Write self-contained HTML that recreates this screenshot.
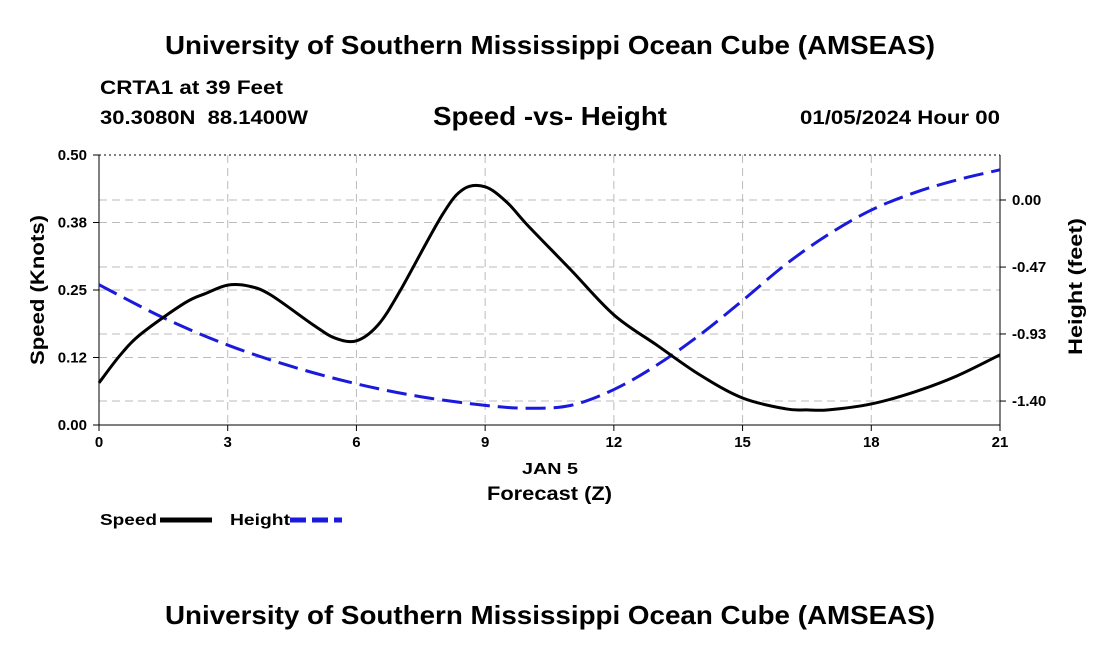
<!DOCTYPE html>
<html><head><meta charset="utf-8"><style>
body{margin:0;background:#fff;font-family:"Liberation Sans",sans-serif}
svg text{font-family:"Liberation Sans",sans-serif;font-weight:bold}
</style></head><body>
<svg id="c" width="1100" height="650">
<text x="165" y="54" font-size="26" textLength="770" lengthAdjust="spacingAndGlyphs">University of Southern Mississippi Ocean Cube (AMSEAS)</text>
<text x="100" y="94" font-size="19" textLength="183" lengthAdjust="spacingAndGlyphs">CRTA1 at 39 Feet</text>
<text x="100" y="124" font-size="19" textLength="208" lengthAdjust="spacingAndGlyphs" xml:space="preserve">30.3080N  88.1400W</text>
<text x="433" y="125" font-size="26" textLength="234" lengthAdjust="spacingAndGlyphs">Speed -vs- Height</text>
<text x="800" y="124" font-size="19" textLength="200" lengthAdjust="spacingAndGlyphs">01/05/2024 Hour 00</text>
<text x="522" y="474" font-size="16" textLength="56" lengthAdjust="spacingAndGlyphs">JAN 5</text>
<text x="487" y="500" font-size="19" textLength="125" lengthAdjust="spacingAndGlyphs">Forecast (Z)</text>
<text transform="translate(44,365) rotate(-90)" font-size="19" textLength="150" lengthAdjust="spacingAndGlyphs">Speed (Knots)</text>
<text transform="translate(1082,355) rotate(-90)" font-size="19" textLength="137" lengthAdjust="spacingAndGlyphs">Height (feet)</text>
<g>
<text x="100" y="525" font-size="16" textLength="57" lengthAdjust="spacingAndGlyphs">Speed</text>
<line x1="160" y1="520" x2="212" y2="520" stroke="#000" stroke-width="5"/>
<text x="230" y="525" font-size="16" textLength="60" lengthAdjust="spacingAndGlyphs">Height</text>
<line x1="290" y1="520" x2="342" y2="520" stroke="#1a1adc" stroke-width="5" stroke-dasharray="16,6"/>
</g>
<text x="165" y="624" font-size="26" textLength="770" lengthAdjust="spacingAndGlyphs">University of Southern Mississippi Ocean Cube (AMSEAS)</text>
<g id="plot"></g>
</svg>
<script>
const xTicks=[0,3,6,9,12,15,18,21];
const yTicks=[0,0.125,0.25,0.375,0.5];
const yTickLabels=["0.00","0.12","0.25","0.38","0.50"];
const y2Ticks=[0,-0.467,-0.933,-1.4];
const y2TickLabels=["0.00","-0.47","-0.93","-1.40"];
const speedHours=[0,0.5,1,2,2.5,3,3.5,4,5,5.5,6,6.5,7,8,8.5,9,9.5,10,11,12,13,14,15,16,16.5,17,18,19,20,21];
const speedValues=[0.078,0.13,0.17,0.226,0.244,0.259,0.257,0.241,0.185,0.161,0.156,0.185,0.246,0.389,0.437,0.441,0.413,0.369,0.287,0.204,0.148,0.093,0.05,0.03,0.028,0.028,0.039,0.061,0.091,0.13];
const heightHours=[0,1.5,3,4.5,6,7.5,9,10,11,12,13,14,15,16,17,18,19,20,21];
const heightValues=[-0.59,-0.82,-1.01,-1.16,-1.28,-1.37,-1.43,-1.45,-1.43,-1.32,-1.15,-0.94,-0.70,-0.45,-0.24,-0.07,0.05,0.14,0.21];
const L=99,R=1000,T=155,B=425;
const X=h=>L+(h/21)*(R-L);
const Y=v=>B-(v/0.5)*(B-T);
const Y2=v=>200-v*143.6;
const NS="http://www.w3.org/2000/svg";
const g=document.getElementById('plot');
function mk(t,a,name){const e=document.createElementNS(NS,t);for(const k in a)e.setAttribute(k,a[k]);


g.appendChild(e);return e;}
xTicks.forEach((t,i)=>{
 if(t>0&&t<21)mk('line',{x1:X(t),y1:T,x2:X(t),y2:B,stroke:'#bbb','stroke-dasharray':'8,5'},'x-gridline');
 mk('line',{x1:X(t),y1:B,x2:X(t),y2:B+6,stroke:'#000'},'x-tick');
 const tx=mk('text',{x:X(t),y:B+22,'font-size':15,'text-anchor':'middle'},'x-tick-label');tx.textContent=t;
});
yTicks.forEach((t,i)=>{
 if(t>0&&t<0.5)mk('line',{x1:L,y1:Y(t),x2:R,y2:Y(t),stroke:'#bbb','stroke-dasharray':'8,5'},'y-gridline');
 mk('line',{x1:L-6,y1:Y(t),x2:L,y2:Y(t),stroke:'#000'},'y-tick');
 const tx=mk('text',{x:L-12,y:Y(t)+5,'font-size':15,'text-anchor':'end'},'y-tick-label');tx.textContent=yTickLabels[i];
});
y2Ticks.forEach((t,i)=>{
 mk('line',{x1:L,y1:Y2(t),x2:R,y2:Y2(t),stroke:'#bbb','stroke-dasharray':'8,5'},'y2-gridline');
 mk('line',{x1:R,y1:Y2(t),x2:R+6,y2:Y2(t),stroke:'#000'},'y2-tick');
 const tx=mk('text',{x:R+12,y:Y2(t)+5,'font-size':15},'y2-tick-label');tx.textContent=y2TickLabels[i];
});
mk('line',{x1:L,y1:T,x2:R,y2:T,stroke:'#000','stroke-dasharray':'2,3'},'top-border');
mk('line',{x1:L,y1:B,x2:R,y2:B,stroke:'#000'},'x-axis');
mk('line',{x1:L,y1:T,x2:L,y2:B,stroke:'#000'},'y-axis');
mk('line',{x1:R,y1:T,x2:R,y2:B,stroke:'#000'},'y2-axis');
function smooth(xs,ys){let d=`M${xs[0]},${ys[0]}`;for(let i=0;i<xs.length-1;i++){
 const x0=xs[i-1]??xs[i],y0=ys[i-1]??ys[i],x3=xs[i+2]??xs[i+1],y3=ys[i+2]??ys[i+1];
 const c1x=xs[i]+(xs[i+1]-x0)/6,c1y=ys[i]+(ys[i+1]-y0)/6,c2x=xs[i+1]-(x3-xs[i])/6,c2y=ys[i+1]-(y3-ys[i])/6;
 d+=` C${c1x},${c1y} ${c2x},${c2y} ${xs[i+1]},${ys[i+1]}`;}return d;}
mk('path',{d:smooth(heightHours.map(X),heightValues.map(Y2)),fill:'none',stroke:'#1a1adc','stroke-width':3,'stroke-dasharray':'20,8'},'height-line');
mk('path',{d:smooth(speedHours.map(X),speedValues.map(Y)),fill:'none',stroke:'#000','stroke-width':3},'speed-line');
</script>
</body></html>
